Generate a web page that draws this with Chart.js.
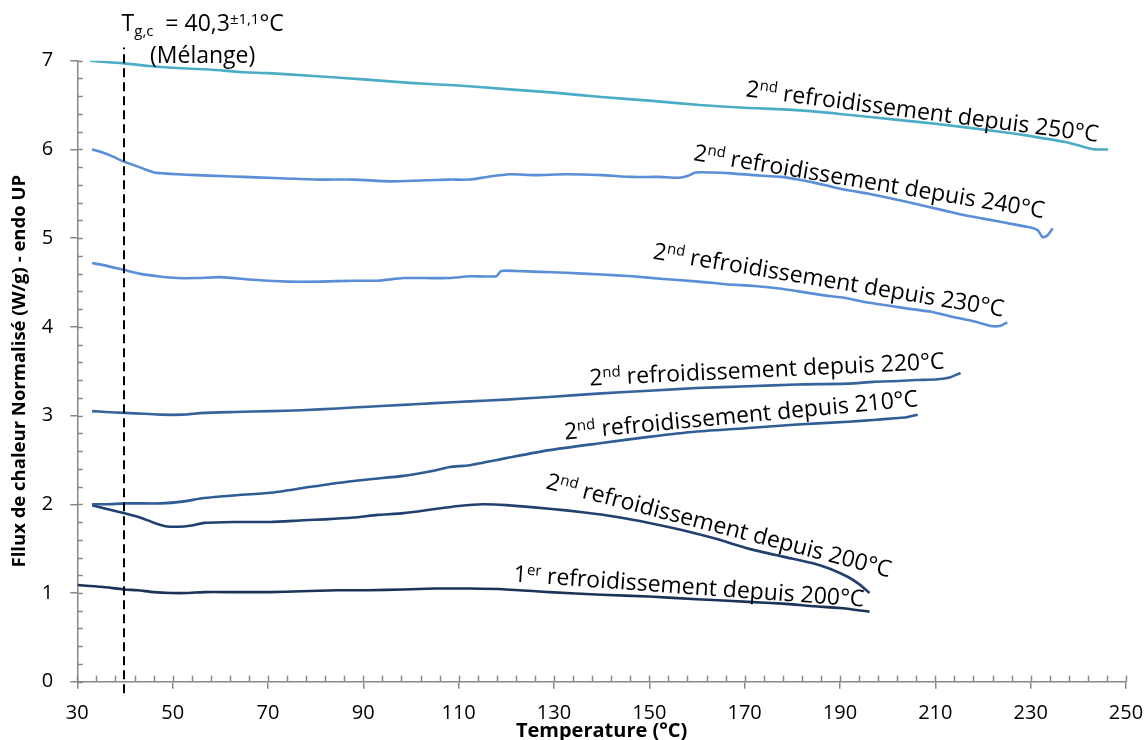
<!DOCTYPE html>
<html>
<head>
<meta charset="utf-8">
<script src="https://cdn.jsdelivr.net/npm/chart.js@4.4.1/dist/chart.umd.min.js"></script>
<style>
html,body{margin:0;padding:0;background:#fff;}
#wrap{width:1147px;height:740px;}
</style>
</head>
<body>
<div id="wrap"><canvas id="c" width="1147" height="740"></canvas></div>
<script>
// ---- Data ----
const xTicksMin = 30, xTicksMax = 250, xStep = 20;
const yMin = 0, yMax = 7, yStep = 1;

const t250 = [32.7, 36, 39.8, 45, 50, 57.7, 65, 70, 78.7, 90, 99.7, 110, 120, 130, 140, 150, 160.6, 170, 181.6, 190, 202.6, 210, 223.6, 230, 237.5, 241, 243.5, 246.2];
const v250 = [7.00, 6.985, 6.97, 6.94, 6.92, 6.90, 6.87, 6.86, 6.83, 6.79, 6.75, 6.72, 6.68, 6.64, 6.59, 6.55, 6.50, 6.47, 6.44, 6.40, 6.33, 6.29, 6.20, 6.15, 6.08, 6.03, 6.00, 6.00];

const t240 = [33.1, 35, 37, 39.9, 42, 44, 46.2, 48, 51, 55, 60, 64.9, 70, 75, 81, 88, 95.6, 102, 108.1, 112.3, 116, 120.7, 126, 132.5, 140, 146.4, 152, 156.2, 158, 159.7, 163, 167.3, 172, 177.7, 181.3, 185, 188.2, 191.7, 196, 202.2, 208, 212, 216, 220, 225, 230, 231.5, 232.5, 233.5, 234.6];
const v240 = [6.00, 5.97, 5.93, 5.86, 5.82, 5.78, 5.74, 5.73, 5.72, 5.71, 5.70, 5.69, 5.68, 5.67, 5.66, 5.66, 5.64, 5.65, 5.66, 5.66, 5.69, 5.72, 5.71, 5.72, 5.71, 5.69, 5.69, 5.68, 5.70, 5.74, 5.74, 5.73, 5.71, 5.69, 5.66, 5.62, 5.58, 5.54, 5.50, 5.43, 5.36, 5.31, 5.26, 5.22, 5.17, 5.12, 5.09, 5.01, 5.03, 5.11];

const t230 = [33.1, 36, 39.9, 43, 46.9, 51, 55, 60, 67, 74, 81, 87.9, 93, 98.4, 103, 108.1, 112.3, 117.9, 118.9, 122, 127, 132.5, 140, 146.4, 153, 160.4, 166, 172, 177.7, 181.3, 186, 191.7, 195.2, 200, 205, 209.1, 213, 218.2, 221.6, 223.5, 225.1];
const v230 = [4.72, 4.69, 4.64, 4.60, 4.57, 4.55, 4.55, 4.56, 4.53, 4.51, 4.51, 4.52, 4.52, 4.55, 4.55, 4.55, 4.57, 4.57, 4.63, 4.63, 4.62, 4.61, 4.59, 4.57, 4.54, 4.51, 4.48, 4.46, 4.43, 4.40, 4.36, 4.32, 4.28, 4.24, 4.20, 4.17, 4.12, 4.06, 4.01, 4.01, 4.05];

const t220 = [33.1, 36, 39.9, 44, 47.6, 52, 56.6, 63, 70.5, 77, 84.5, 91, 98.4, 105, 112.3, 120, 129, 140, 149.9, 160, 170.8, 181, 191.7, 197, 202.2, 206, 210.5, 213, 215.3];
const v220 = [3.05, 3.04, 3.03, 3.02, 3.01, 3.01, 3.03, 3.04, 3.05, 3.06, 3.08, 3.10, 3.12, 3.14, 3.16, 3.18, 3.21, 3.25, 3.28, 3.31, 3.33, 3.35, 3.36, 3.38, 3.39, 3.40, 3.41, 3.43, 3.48];

const t210 = [33.1, 36, 39.9, 43, 47.6, 52, 56.6, 63, 70.5, 77, 84.5, 91, 98.4, 105, 108.1, 112.3, 120, 129, 140, 149.9, 160, 170.8, 181, 191.7, 197, 201.5, 204, 206.3];
const v210 = [2.00, 2.00, 2.01, 2.01, 2.01, 2.03, 2.07, 2.10, 2.13, 2.18, 2.24, 2.28, 2.32, 2.38, 2.42, 2.44, 2.52, 2.61, 2.69, 2.76, 2.82, 2.86, 2.90, 2.93, 2.95, 2.97, 2.98, 3.01];

const t200b = [33.1, 36, 39.9, 42.7, 46.2, 48.9, 52.4, 54, 56.6, 63, 70.5, 77.5, 82, 87.9, 93, 98.4, 105.4, 110, 115, 120, 129, 136, 142.9, 150, 156.8, 164, 170.8, 178, 184.7, 188, 191.7, 194, 196.2];
const v200b = [1.99, 1.95, 1.90, 1.86, 1.79, 1.75, 1.75, 1.76, 1.79, 1.80, 1.80, 1.82, 1.83, 1.85, 1.88, 1.90, 1.95, 1.98, 2.00, 1.99, 1.95, 1.91, 1.86, 1.79, 1.71, 1.61, 1.50, 1.41, 1.33, 1.27, 1.18, 1.10, 1.00];

const t200a = [30.1, 35, 39.9, 42.7, 46, 49.6, 53, 56.6, 63, 70.5, 77, 84.5, 91, 98.4, 105, 112.3, 120, 129, 140, 149.9, 160, 170.8, 178, 184.7, 190, 196.2];
const v200a = [1.09, 1.07, 1.04, 1.03, 1.01, 1.00, 1.00, 1.01, 1.01, 1.01, 1.02, 1.03, 1.03, 1.04, 1.05, 1.05, 1.04, 1.01, 0.98, 0.96, 0.93, 0.90, 0.88, 0.85, 0.83, 0.79];

const tgValue = 39.8;          // dashed marker position (°C)
const tgSpan = [-0.13, 7.15];  // dashed line vertical extent (W/g)

const labels250 = [{t:'2'},{t:'nd',sup:true},{t:' refroidissement depuis 250°C'}];
const labels240 = [{t:'2'},{t:'nd',sup:true},{t:' refroidissement depuis 240°C'}];
const labels230 = [{t:'2'},{t:'nd',sup:true},{t:' refroidissement depuis 230°C'}];
const labels220 = [{t:'2'},{t:'nd',sup:true},{t:' refroidissement depuis 220°C'}];
const labels210 = [{t:'2'},{t:'nd',sup:true},{t:' refroidissement depuis 210°C'}];
const labels200b = [{t:'2'},{t:'nd',sup:true},{t:' refroidissement depuis 200°C'}];
const labels200a = [{t:'1'},{t:'er',sup:true},{t:' refroidissement depuis 200°C'}];
const tgText = [{t:'T'},{t:'g,c',sub:true},{t:'  = 40,3'},{t:'±1,1',sup:true},{t:'°C'}];
const tgText2 = [{t:'(Mélange)'}];

// ---- Styles / placement ----
const FONT = "'Open Sans'";
const AXIS = '#878787';
const pts = (t, v) => t.map((x, i) => ({x, y: v[i]}));
const line = (t, v, color) => ({data: pts(t, v), borderColor: color, borderWidth: 2.6, pointRadius: 0, tension: 0.2, fill: false});

const annotations = [
  {parts: labels250, x: 170.1, y: 6.60, angle: 7.4},
  {parts: labels240, x: 159.1, y: 5.88, angle: 9.4},
  {parts: labels230, x: 150.6, y: 4.77, angle: 9.4},
  {parts: labels220, x: 137.5, y: 3.34, angle: -2.7},
  {parts: labels210, x: 132.3, y: 2.73, angle: -5.4},
  {parts: labels200b, x: 128.1, y: 2.18, angle: 14.5},
  {parts: labels200a, x: 121.4, y: 1.13, angle: 4.1},
];

function drawRich(ctx, parts, size, measureOnly) {
  let x = 0;
  for (const p of parts) {
    const s = (p.sup || p.sub) ? size * 0.65 : size;
    ctx.font = `${s}px ${FONT}`;
    const dy = p.sup ? -size * 0.33 : (p.sub ? size * 0.22 : 0);
    if (!measureOnly) ctx.fillText(p.t, x, dy);
    x += ctx.measureText(p.t).width;
  }
  return x;
}

const decor = {
  id: 'decor',
  afterDraw(chart) {
    const {ctx, scales: {x, y}} = chart;
    ctx.save();
    // inner tick marks (major cross, minor inside)
    ctx.strokeStyle = AXIS; ctx.lineWidth = 1.5;
    const yb = y.getPixelForValue(yMin);
    for (let v = xTicksMin; v <= xTicksMax + 1e-6; v += 4) {
      const px = Math.round(x.getPixelForValue(v)) + 0.5;
      ctx.beginPath(); ctx.moveTo(px, yb); ctx.lineTo(px, yb - 6); ctx.stroke();
    }
    const xl = x.getPixelForValue(xTicksMin);
    for (let k = 0; k <= 35; k++) {
      const v = k * 0.2;
      const py = Math.round(y.getPixelForValue(v)) + 0.5;
      ctx.beginPath(); ctx.moveTo(xl, py); ctx.lineTo(xl + 5.5, py); ctx.stroke();
    }
    // curve labels
    ctx.fillStyle = '#000';
    ctx.textBaseline = 'alphabetic';
    ctx.textAlign = 'left';
    for (const a of annotations) {
      ctx.save();
      ctx.translate(x.getPixelForValue(a.x), y.getPixelForValue(a.y));
      ctx.rotate(a.angle * Math.PI / 180);
      drawRich(ctx, a.parts, 23);
      ctx.restore();
    }
    // Tg label (centered over the two lines)
    const cx = x.getPixelForValue(56.3);
    const w1 = drawRich(ctx, tgText, 23, true);
    ctx.save(); ctx.translate(cx - w1 / 2, y.getPixelForValue(7.33)); drawRich(ctx, tgText, 23); ctx.restore();
    const w2 = drawRich(ctx, tgText2, 23, true);
    ctx.save(); ctx.translate(cx - w2 / 2, y.getPixelForValue(6.975)); drawRich(ctx, tgText2, 23); ctx.restore();
    ctx.restore();
  }
};

Chart.defaults.font.family = FONT;
Chart.defaults.color = '#000';

new Chart(document.getElementById('c'), {
  type: 'line',
  data: {
    datasets: [
      {data: pts([tgValue, tgValue], tgSpan), borderColor: '#000', borderWidth: 2, borderDash: [9, 5], pointRadius: 0, clip: false, tension: 0},
      line(t250, v250, '#4BACC6'),
      line(t240, v240, '#5A8ED6'),
      line(t230, v230, '#5A8ED6'),
      line(t220, v220, '#36639C'),
      line(t210, v210, '#2F5C95'),
      line(t200b, v200b, '#21406F'),
      line(t200a, v200a, '#1A3358'),
    ]
  },
  options: {
    responsive: false,
    animation: false,
    events: [],
    layout: {padding: {left: 0, right: 21, top: 60.7, bottom: 0}},
    plugins: {legend: {display: false}, tooltip: {enabled: false}},
    scales: {
      x: {
        type: 'linear', min: xTicksMin, max: xTicksMax,
        ticks: {stepSize: xStep, font: {size: 20}, color: '#000', padding: 13, maxRotation: 0, autoSkip: false},
        grid: {display: true, drawOnChartArea: false, drawTicks: true, tickLength: 7, color: AXIS, lineWidth: 1.5},
        border: {display: true, color: AXIS, width: 1.5},
        title: {display: true, text: 'Temperature (°C)', font: {size: 20, weight: 'bold'}, color: '#000', padding: {top: 0, bottom: -3}},
        afterFit: s => { s.height = 58.3; s.paddingRight = 0; s.paddingLeft = 0; }
      },
      y: {
        type: 'linear', min: yMin, max: yMax,
        ticks: {stepSize: yStep, font: {size: 20}, color: '#000', padding: 17},
        grid: {display: true, drawOnChartArea: false, drawTicks: true, tickLength: 7, color: AXIS, lineWidth: 1.5},
        border: {display: true, color: AXIS, width: 1.5},
        title: {display: true, text: 'Fllux de chaleur Normalisé (W/g) - endo UP', font: {size: 18.5, weight: 'bold'}, color: '#000', padding: {top: 9, bottom: 0}},
        afterFit: s => { s.width = 77.3; s.paddingTop = 0; s.paddingBottom = 0; }
      }
    }
  },
  plugins: [decor]
});
</script>
</body>
</html>
